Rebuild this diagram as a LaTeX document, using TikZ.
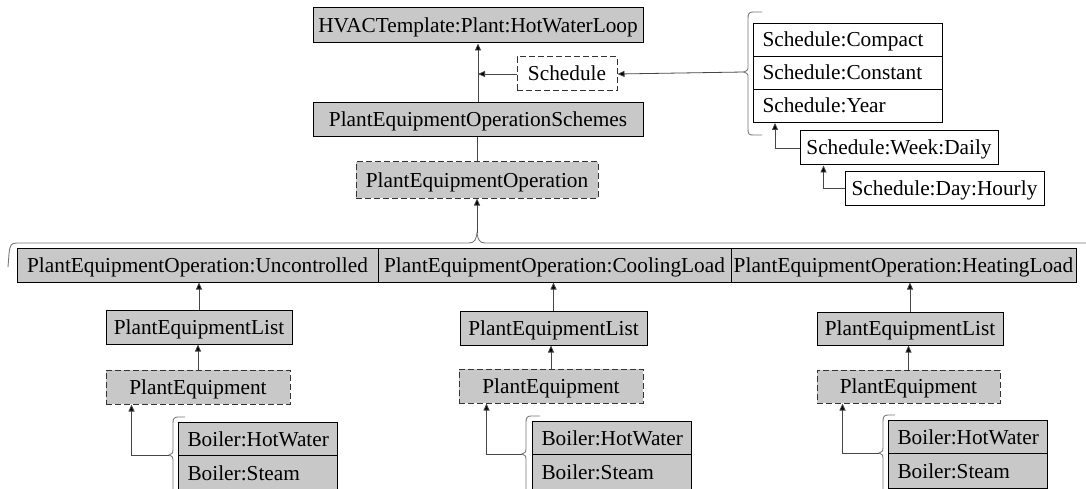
\documentclass[tikz,border=0pt]{standalone}
\usepackage{fontspec}
\setmainfont{Liberation Serif}
\usetikzlibrary{arrows.meta}

\definecolor{boxgray}{RGB}{200,200,200}
\definecolor{linegray}{RGB}{70,70,70}
\definecolor{bracegray}{RGB}{120,120,120}

\tikzset{
  box/.style={draw=black, line width=1pt, fill=boxgray, inner sep=0pt,
    font=\fontsize{21.3}{25}\selectfont, text height=14pt, text depth=0pt},
  wbox/.style={box, fill=white},
  dbox/.style={box, draw=black!80, dash pattern=on 6pt off 3pt},
  row/.style={box, anchor=north west, inner xsep=9pt, align=left},
  wrow/.style={row, fill=white},
  conn/.style={draw=linegray, line width=0.8pt, -{Triangle[width=6pt,length=7pt,fill=black]}},
  bracepath/.style={draw=bracegray, line width=0.9pt}
}

\begin{document}
\begin{tikzpicture}[x=1pt, y=-1pt]
\useasboundingbox (0,0) rectangle (1086,489);

% top of the hierarchy
\node[box, minimum width=330pt, minimum height=35pt] (hvac) at (478,25.5) {HVACTemplate:Plant:HotWaterLoop};
\node[wbox, dbox, fill=white, minimum width=100pt, minimum height=34pt] (sched) at (567,74) {Schedule};
\node[box, minimum width=330pt, minimum height=34pt] (peos) at (478,120) {PlantEquipmentOperationSchemes};
\node[dbox, minimum width=242pt, minimum height=36pt] (peo) at (477,180) {PlantEquipmentOperation};

% schedule types
\node[wrow, text width=171pt, minimum height=33pt] (scA) at (753,23) {Schedule:Compact};
\node[wrow, text width=171pt, minimum height=33pt] (scB) at (753,56) {Schedule:Constant};
\node[wrow, text width=171pt, minimum height=33pt] (scC) at (753,89) {Schedule:Year};
\node[wbox, minimum width=198pt, minimum height=34pt] (week) at (899,148) {Schedule:Week:Daily};
\node[wbox, minimum width=199pt, minimum height=33pt] (day) at (944.5,188.5) {Schedule:Day:Hourly};

% operation types
\node[box, minimum width=361pt, minimum height=34pt] (opU) at (197.5,265) {PlantEquipmentOperation:Uncontrolled};
\node[box, minimum width=353pt, minimum height=34pt] (opC) at (554.5,265) {PlantEquipmentOperation:CoolingLoad};
\node[box, minimum width=345pt, minimum height=34pt] (opH) at (903.5,265) {PlantEquipmentOperation:HeatingLoad};

% equipment lists
\node[box, minimum width=186pt, minimum height=34pt] (pel1) at (199,327) {PlantEquipmentList};
\node[dbox, minimum width=184pt, minimum height=34pt] (pe1) at (198,387) {PlantEquipment};
\node[box, minimum width=187pt, minimum height=34pt] (pel2) at (553.5,328) {PlantEquipmentList};
\node[dbox, minimum width=184pt, minimum height=34pt] (pe2) at (551,386) {PlantEquipment};
\node[box, minimum width=186pt, minimum height=33pt] (pel3) at (910,328.5) {PlantEquipmentList};
\node[dbox, minimum width=183pt, minimum height=33pt] (pe3) at (908.5,386.5) {PlantEquipment};

% boilers
\node[row, text width=141pt, minimum height=33pt] (b1a) at (178,422) {Boiler:HotWater};
\node[row, text width=141pt, minimum height=35pt] (b1b) at (178,455) {Boiler:Steam};
\node[row, text width=141pt, minimum height=33pt] (b2a) at (532,421) {Boiler:HotWater};
\node[row, text width=141pt, minimum height=35pt] (b2b) at (532,454) {Boiler:Steam};
\node[row, text width=141pt, minimum height=33pt] (b3a) at (888,420) {Boiler:HotWater};
\node[row, text width=141pt, minimum height=35pt] (b3b) at (888,453) {Boiler:Steam};

% brace tips
\coordinate (sTip) at (744,72);
\coordinate (oTip) at (477,233);
\coordinate (t1) at (169,455);
\coordinate (t2) at (522,454);
\coordinate (t3) at (879,453);

% braces
\draw[bracepath] (762,12) -- (753,12) .. controls (749,12) and (748,14) .. (748,18) -- (748,66)
  .. controls (748,70) .. (sTip) .. controls (748,74) .. (748,78) -- (748,129)
  .. controls (748,134) and (749,135) .. (753,135) -- (762,135);
\draw[bracepath] (8,267) -- (9,254) .. controls (10,245) and (11,243) .. (17,243) -- (469,243)
  .. controls (475,243) and (476,239) .. (oTip) .. controls (478,239) and (479,243) .. (485,243) -- (1092,243);
\draw[bracepath] (185,417) -- (178,417) .. controls (174,417) and (173,419) .. (173,423) -- (173,450)
  .. controls (173,453) .. (t1) .. controls (173,457) .. (173,460) -- (173,495);
\draw[bracepath] (540,416) -- (531,416) .. controls (527,416) and (526,418) .. (526,422) -- (526,449)
  .. controls (526,452) .. (t2) .. controls (526,456) .. (526,459) -- (526,495);
\draw[bracepath] (895,415) -- (888,415) .. controls (884,415) and (883,417) .. (883,421) -- (883,448)
  .. controls (883,451) .. (t3) .. controls (883,455) .. (883,458) -- (883,495);

% connectors
\draw[conn] (peos.north) -- (hvac.south);
\draw[conn] (sched.west) -- (sched.west -| peos.north);
\draw[conn] (sTip) -- (sched.east);
\draw[draw=linegray, line width=0.8pt] (peo.north) -- (peo.north |- peos.south);
\draw[conn] (oTip) -- (oTip |- peo.south);
\draw[conn] (week.west) -| ([xshift=22pt]scC.south west);
\draw[conn] (day.west) -| ([xshift=24pt]week.south west);

\draw[conn] (pel1.north) -- (pel1.north |- opU.south);
\draw[conn] (pel2.north) -- (pel2.north |- opC.south);
\draw[conn] (pel3.north) -- (pel3.north |- opH.south);
\draw[conn] (pe1.north) -- (pe1.north |- pel1.south);
\draw[conn] (pe2.north) -- (pe2.north |- pel2.south);
\draw[conn] (pe3.north) -- (pe3.north |- pel3.south);
\draw[conn] (t1) -| ([xshift=26pt]pe1.south west);
\draw[conn] (t2) -| ([xshift=28pt]pe2.south west);
\draw[conn] (t3) -| ([xshift=26pt]pe3.south west);
\end{tikzpicture}
\end{document}
